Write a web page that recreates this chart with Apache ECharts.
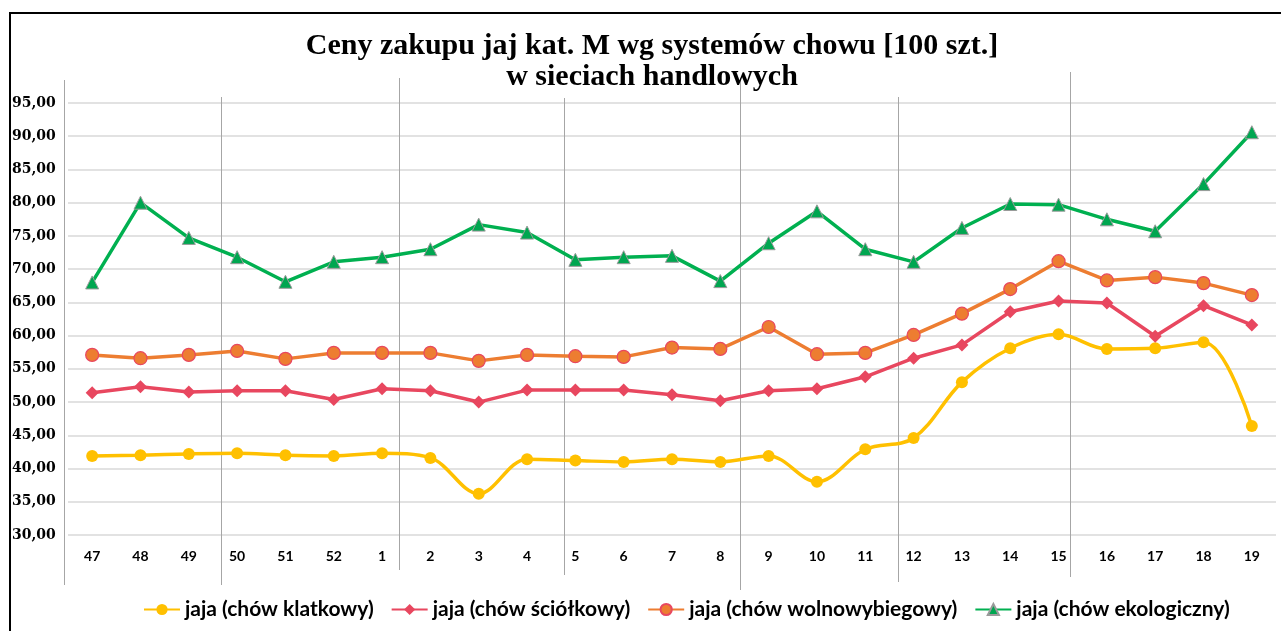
<!DOCTYPE html>
<html>
<head>
<meta charset="utf-8">
<script src="https://cdn.jsdelivr.net/npm/echarts@6/dist/echarts.min.js"></script>
<style>
  html, body { margin: 0; padding: 0; background: #fff; }
  #main { width: 1281px; height: 631px; }
</style>
</head>
<body>
<div id="main"></div>
<script>
// tygodnie (47-52 poprzedniego roku, 1-19 biezacego)
var weeks = ['47','48','49','50','51','52','1','2','3','4','5','6','7','8','9','10','11','12','13','14','15','16','17','18','19'];

var klatkowy      = [41.9,42.0,42.2,42.3,42.0,41.9,42.3,41.6,36.2,41.4,41.2,41.0,41.4,41.0,41.9,38.0,42.9,44.6,53.0,58.1,60.2,58.0,58.1,59.0,46.4];
var sciolkowy     = [51.4,52.3,51.5,51.7,51.7,50.4,52.0,51.7,50.0,51.8,51.8,51.8,51.1,50.2,51.7,52.0,53.8,56.6,58.6,63.6,65.2,64.9,59.9,64.5,61.6];
var wolnowybieg   = [57.1,56.6,57.1,57.7,56.5,57.4,57.4,57.4,56.2,57.1,56.9,56.8,58.2,58.0,61.3,57.2,57.4,60.1,63.3,67.0,71.2,68.3,68.8,67.9,66.1];
var ekologiczny   = [68.0,80.0,74.7,71.8,68.1,71.1,71.8,73.0,76.7,75.5,71.4,71.8,72.0,68.2,73.9,78.7,73.0,71.1,76.2,79.8,79.7,77.5,75.7,82.8,90.6];

var seriesNames = ['jaja (chów klatkowy)','jaja (chów ściółkowy)','jaja (chów wolnowybiegowy)','jaja (chów ekologiczny)'];

// reczne linie oddzielajace miesiace (indeks kategorii, gora, dol)
var sepIndex  = [-0.58, 2.67, 6.36, 9.77, 13.40, 16.67, 20.23];
var sepTop    = [80, 97, 78, 98, 78, 97, 72];
var sepBottom = [585, 585, 570, 575, 590, 582, 577];

var myChart = echarts.init(document.getElementById('main'));

var option = {
    backgroundColor: '#fff',
    animation: false,
    title: {
        text: 'Ceny zakupu jaj kat. M wg systemów chowu [100 szt.]\nw sieciach handlowych',
        left: 647,
        textAlign: 'center',
        top: 26,
        textStyle: {
            fontFamily: 'Liberation Serif',
            fontWeight: 'bold',
            fontSize: 30,
            lineHeight: 31,
            color: '#000'
        }
    },
    legend: {
        data: seriesNames,
        left: 138,
        top: 594,
        itemWidth: 36,
        itemHeight: 14,
        itemGap: 17,
        textStyle: {
            fontFamily: 'Lato',
            fontWeight: 'bold',
            fontSize: 21,
            color: '#000'
        }
    },
    grid: {
        left: 68,
        right: 5,
        top: 103,
        bottom: 96,
        containLabel: false
    },
    xAxis: {
        type: 'category',
        data: weeks,
        boundaryGap: true,
        axisLine: {show: false},
        axisTick: {show: false},
        axisLabel: {
            margin: 14,
            fontFamily: 'Lato',
            fontWeight: 'bold',
            fontSize: 14,
            color: '#000'
        }
    },
    yAxis: {
        type: 'value',
        min: 30,
        max: 95,
        interval: 5,
        axisLine: {show: false},
        axisTick: {show: false},
        splitLine: {lineStyle: {color: '#d9d9d9', width: 1.5}},
        axisLabel: {
            align: 'left',
            margin: 56,
            fontFamily: 'DejaVu Serif',
            fontWeight: 'bold',
            fontSize: 14,
            color: '#000',
            formatter: function (v) { return v.toFixed(2).replace('.', ','); }
        }
    },
    series: [
        {
            name: seriesNames[0],
            type: 'line',
            data: klatkowy,
            smooth: 0.35,
            symbol: 'circle',
            symbolSize: 12,
            lineStyle: {color: '#FFC000', width: 3.5},
            itemStyle: {color: '#FFC000'}
        },
        {
            name: seriesNames[1],
            type: 'line',
            data: sciolkowy,
            symbol: 'diamond',
            symbolSize: 13,
            lineStyle: {color: '#E8475F', width: 3.5},
            itemStyle: {color: '#E8475F'}
        },
        {
            name: seriesNames[2],
            type: 'line',
            data: wolnowybieg,
            symbol: 'circle',
            symbolSize: 13,
            lineStyle: {color: '#ED7D31', width: 3.5},
            itemStyle: {color: '#ED7D31', borderColor: '#E8475F', borderWidth: 1.2}
        },
        {
            name: seriesNames[3],
            type: 'line',
            data: ekologiczny,
            symbol: 'triangle',
            symbolSize: 13,
            lineStyle: {color: '#00B050', width: 3.5},
            itemStyle: {color: '#00A650', borderColor: '#9a9a9a', borderWidth: 1}
        }
    ]
};

myChart.setOption(option, true);

// linie miesiecy i ramka - liczone przez skale osi
function catX(idx) {
    var lo = Math.floor(idx), hi = lo + 1;
    var xl = myChart.convertToPixel({xAxisIndex: 0}, lo < 0 ? 0 : lo);
    var xh = myChart.convertToPixel({xAxisIndex: 0}, lo < 0 ? 1 : hi);
    if (lo < 0) return xl + (xh - xl) * idx;
    return xl + (xh - xl) * (idx - lo);
}

var graphics = sepIndex.map(function (idx, i) {
    var x = Math.round(catX(idx)) + 0.5;
    return {
        type: 'line',
        z: 0,
        shape: {x1: x, y1: sepTop[i], x2: x, y2: sepBottom[i]},
        style: {stroke: '#a6a6a6', lineWidth: 1}
    };
});
graphics.push({
    type: 'polyline',
    z: 10,
    shape: {points: [[10, 640], [10, 13], [1290, 13]]},
    style: {stroke: '#000', lineWidth: 2, fill: null}
});

myChart.setOption({graphic: graphics});
</script>
</body>
</html>
